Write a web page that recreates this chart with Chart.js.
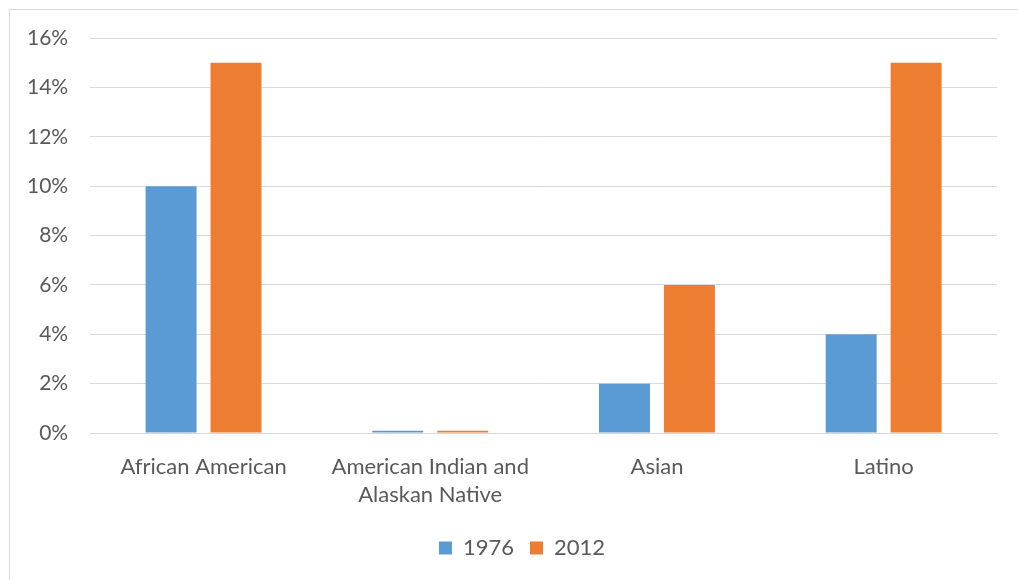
<!DOCTYPE html>
<html lang="en">
<head>
    <meta charset="UTF-8">
    <title>Share by group, 1976 and 2012</title>
    <script src="https://cdn.jsdelivr.net/npm/chart.js"></script>
    <style>
        html, body { margin: 0; padding: 0; background: #fff; }
        .frame {
            position: absolute; left: 9px; top: 9px; width: 1040px; height: 600px;
            border-top: 1px solid #d9d9d9; border-left: 1px solid #d9d9d9;
        }
        .wrap { position: absolute; left: 0; top: 0; width: 1018px; height: 580px; }
    </style>
</head>
<body>
    <div class="frame"></div>
    <div class="wrap"><canvas id="chart"></canvas></div>
    <script>
        const categories = ['African American', ['American Indian and', 'Alaskan Native'], 'Asian', 'Latino'];
        const values1976 = [10, 0.1, 2, 4];
        const values2012 = [15, 0.1, 6, 15];
        const yTicks = [0, 2, 4, 6, 8, 10, 12, 14, 16];

        const fontFamily = 'Lato, "Open Sans", sans-serif';
        const textColor = '#595959';

        // nudge the legend a bit right, under the plot
        const legendShift = {
            id: 'legendShift',
            afterLayout(chart) {
                if (chart.legend) {
                    chart.legend.left += 21;
                    chart.legend.right += 21;
                }
            }
        };

        new Chart(document.getElementById('chart'), {
            type: 'bar',
            data: {
                labels: categories,
                datasets: [
                    { label: '1976', data: values1976, backgroundColor: '#5b9bd5' },
                    { label: '2012', data: values2012, backgroundColor: '#ed7d31' }
                ]
            },
            plugins: [legendShift],
            options: {
                responsive: true,
                maintainAspectRatio: false,
                animation: false,
                categoryPercentage: 0.573,
                barPercentage: 0.785,
                layout: { padding: { left: 5, right: 21, top: 38, bottom: 11 } },
                plugins: {
                    tooltip: { enabled: false },
                    legend: {
                        position: 'bottom',
                        labels: {
                            boxWidth: 13, boxHeight: 13, padding: 16,
                            color: textColor,
                            font: { family: fontFamily, size: 22 }
                        }
                    }
                },
                scales: {
                    x: {
                        grid: { display: false },
                        border: { color: '#d9d9d9' },
                        ticks: {
                            color: textColor, padding: 12,
                            font: { family: fontFamily, size: 22, lineHeight: 1.27 },
                            maxRotation: 0
                        }
                    },
                    y: {
                        min: 0, max: 16,
                        afterBuildTicks: axis => { axis.ticks = yTicks.map(v => ({ value: v })); },
                        grid: { color: '#d9d9d9', drawTicks: false },
                        border: { display: false },
                        ticks: {
                            color: textColor, padding: 22,
                            font: { family: fontFamily, size: 21 },
                            callback: v => v + '%'
                        }
                    }
                }
            }
        });
    </script>
</body>
</html>
